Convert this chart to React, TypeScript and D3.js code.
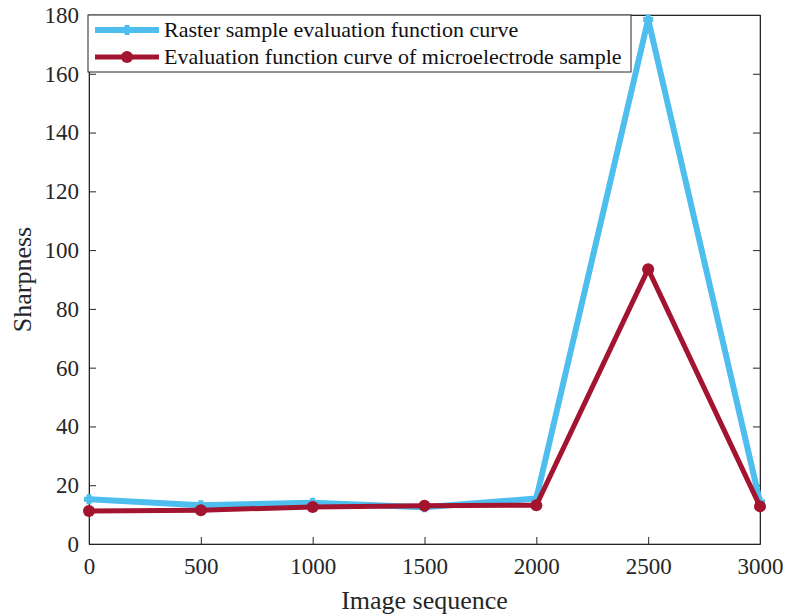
import React, { useEffect, useRef } from 'react';
import * as d3 from 'd3';

const xValues = [0, 500, 1000, 1500, 2000, 2500, 3000];
const rasterValues = [15.2, 13.2, 14.0, 12.5, 15.5, 178.5, 14.3];
const electrodeValues = [11.2, 11.5, 12.6, 13.0, 13.2, 93.5, 12.8];
const xTicks = [0, 500, 1000, 1500, 2000, 2500, 3000];
const yTicks = [0, 20, 40, 60, 80, 100, 120, 140, 160, 180];
const seriesNames = [
  'Raster sample evaluation function curve',
  'Evaluation function curve of microelectrode sample',
];

const W = 787;
const H = 616;
const FONT = "'Liberation Serif', serif";

const App = () => {
  const svgRef = useRef<SVGSVGElement>(null);

  useEffect(() => {
    const svg = d3.select(svgRef.current);
    svg.selectAll('*').remove();

    const margin = { top: 15, right: 27, bottom: 72, left: 89 };
    const innerW = W - margin.left - margin.right;
    const innerH = H - margin.top - margin.bottom;

    const x = d3.scaleLinear().domain([0, 3000]).range([0, innerW]);
    const y = d3.scaleLinear().domain([0, 180]).range([innerH, 0]);

    const g = svg.append('g').attr('transform', `translate(${margin.left},${margin.top})`);

    // box
    g.append('rect')
      .attr('width', innerW)
      .attr('height', innerH)
      .attr('fill', 'none')
      .attr('stroke', '#777')
      .attr('stroke-width', 1);

    const tickLen = 7;
    const xAxis = g.append('g').attr('transform', `translate(0,${innerH})`)
      .call(d3.axisBottom(x).tickValues(xTicks).tickFormat(d3.format('d')).tickSizeInner(-tickLen).tickSizeOuter(0).tickPadding(14));
    const yAxis = g.append('g')
      .call(d3.axisLeft(y).tickValues(yTicks).tickFormat(d3.format('d')).tickSizeInner(-tickLen).tickSizeOuter(0).tickPadding(10));
    g.append('g')
      .call(d3.axisTop(x).tickValues(xTicks).tickSizeInner(-tickLen).tickSizeOuter(0).tickFormat(() => ''));
    g.append('g').attr('transform', `translate(${innerW},0)`)
      .call(d3.axisRight(y).tickValues(yTicks).tickSizeInner(-tickLen).tickSizeOuter(0).tickFormat(() => ''));

    g.selectAll('.domain').attr('stroke', '#262626');
    g.selectAll('.tick line').attr('stroke', '#262626');
    [xAxis, yAxis].forEach(a => {
      a.attr('font-family', FONT).attr('font-size', 23);
      a.selectAll('text').attr('fill', '#262626');
    });

    const line = d3.line<number>()
      .x((_, i) => x(xValues[i]))
      .y(d => y(d));

    const blue = '#4DBEEE';
    const red = '#A2142F';

    g.append('path')
      .datum(rasterValues)
      .attr('d', line)
      .attr('fill', 'none')
      .attr('stroke', blue)
      .attr('stroke-width', 6);

    g.selectAll('.bm')
      .data(rasterValues)
      .enter()
      .append('path')
      .attr('d', 'M-5,0H5M0,-5V5')
      .attr('transform', (d, i) => `translate(${x(xValues[i])},${y(d)})`)
      .attr('stroke', blue)
      .attr('stroke-width', 5);

    g.append('path')
      .datum(electrodeValues)
      .attr('d', line)
      .attr('fill', 'none')
      .attr('stroke', red)
      .attr('stroke-width', 5);

    g.selectAll('.rm')
      .data(electrodeValues)
      .enter()
      .append('circle')
      .attr('cx', (_, i) => x(xValues[i]))
      .attr('cy', d => y(d))
      .attr('r', 6)
      .attr('fill', red);

    // legend
    const lg = g.append('g').attr('transform', 'translate(-1,0)');
    lg.append('rect')
      .attr('width', 543)
      .attr('height', 57)
      .attr('fill', '#fff')
      .attr('stroke', '#262626')
      .attr('stroke-width', 1);
    const colors = [blue, red];
    seriesNames.forEach((name, i) => {
      const yy = 15 + i * 27;
      lg.append('line')
        .attr('x1', 7).attr('x2', 71).attr('y1', yy).attr('y2', yy)
        .attr('stroke', colors[i]).attr('stroke-width', i === 0 ? 6 : 5);
      if (i === 0) {
        lg.append('path').attr('d', `M34,${yy}H44M39,${yy - 5}V${yy + 5}`)
          .attr('stroke', blue).attr('stroke-width', 5);
      } else {
        lg.append('circle').attr('cx', 39).attr('cy', yy).attr('r', 6).attr('fill', red);
      }
      lg.append('text')
        .attr('x', 76).attr('y', yy + 7)
        .attr('font-family', FONT).attr('font-size', 22)
        .attr('fill', '#111')
        .text(name);
    });

    svg.append('text')
      .attr('x', margin.left + innerW / 2)
      .attr('y', 609)
      .attr('text-anchor', 'middle')
      .attr('font-family', FONT).attr('font-size', 26)
      .attr('fill', '#262626')
      .text('Image sequence');
    svg.append('text')
      .attr('transform', `translate(31,${margin.top + innerH / 2}) rotate(-90)`)
      .attr('text-anchor', 'middle')
      .attr('font-family', FONT).attr('font-size', 26)
      .attr('fill', '#262626')
      .text('Sharpness');
  }, []);

  return <svg ref={svgRef} width={W} height={H} style={{ position: 'absolute', left: 0, top: 0 }} />;
};

export default App;
